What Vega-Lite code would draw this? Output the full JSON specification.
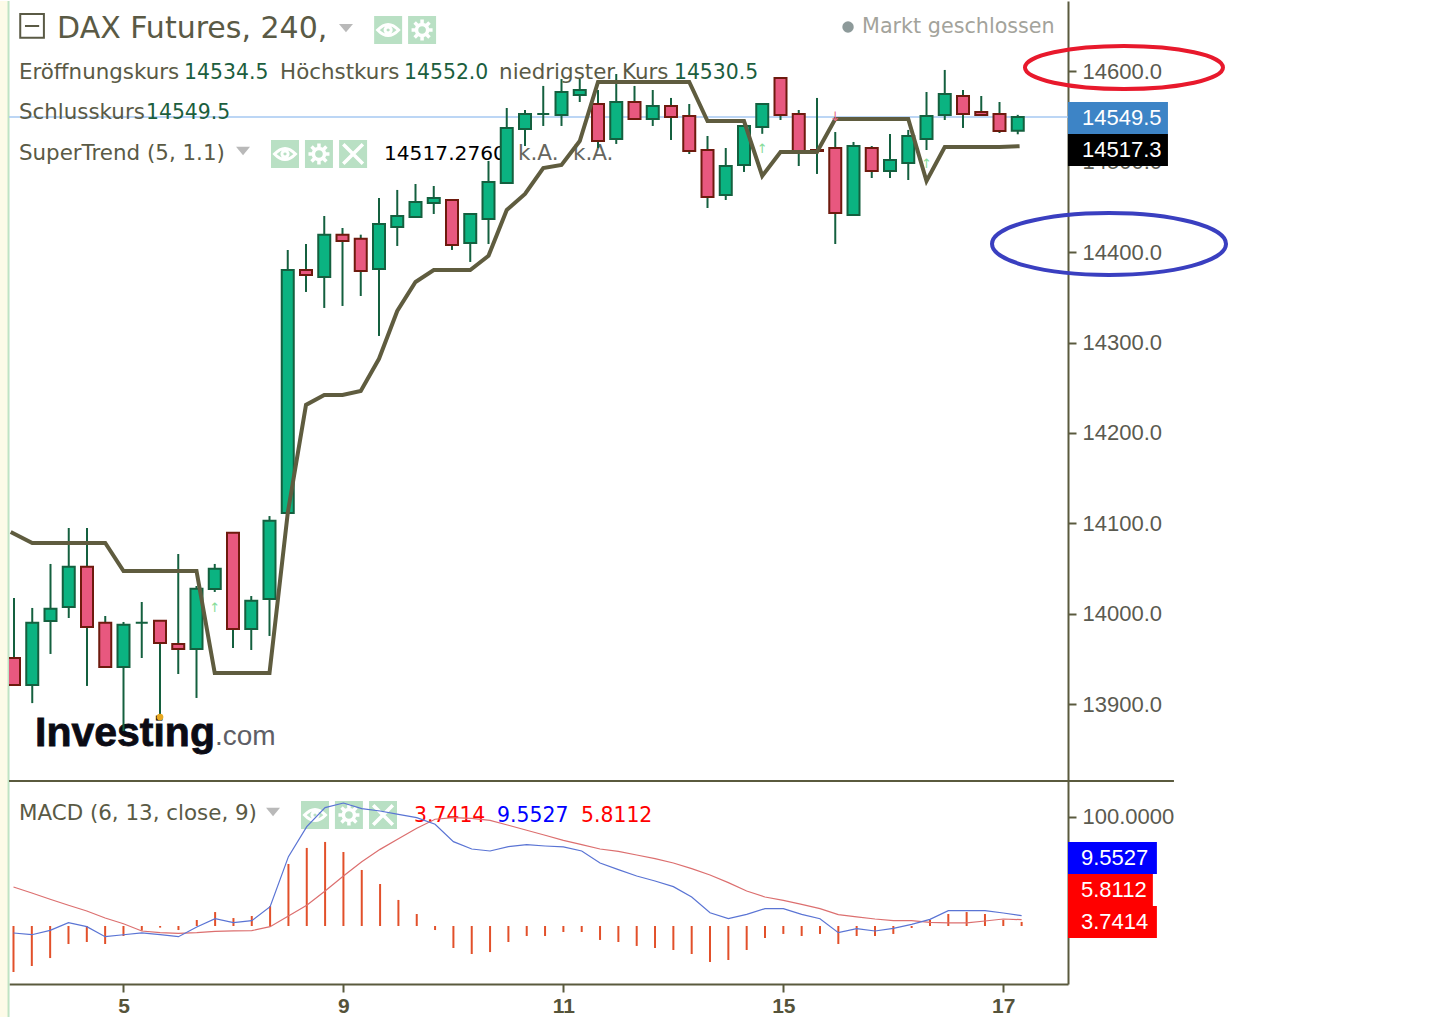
{"$schema":"https://vega.github.io/schema/vega-lite/v6.json","background":"white","padding":0,"spacing":0,"bounds":"flush","config":{"view":{"stroke":null},"axis":{"grid":false,"title":null}},
"datasets":{
"candles":[{"i":0,"o":13950.9,"c":13921,"h":14017.3,"l":13920},{"i":1,"o":13921,"c":13990,"h":14006.3,"l":13901},{"i":2,"o":13991.9,"c":14005.5,"h":14055,"l":13955.4},{"i":3,"o":14007.4,"c":14052,"h":14094.8,"l":13995.2},{"i":4,"o":14052,"c":13985.2,"h":14094.8,"l":13920},{"i":5,"o":13990,"c":13941,"h":13997.4,"l":13941},{"i":6,"o":13941,"c":13987.8,"h":13990.8,"l":13870},{"i":7,"o":13990,"c":13990,"h":14012.9,"l":13950.9},{"i":8,"o":13992.2,"c":13967.5,"h":13992.2,"l":13888.9},{"i":9,"o":13966.4,"c":13960.9,"h":14066,"l":13933.2},{"i":10,"o":13960.9,"c":14027.6,"h":14030.6,"l":13906.7},{"i":11,"o":14027.3,"c":14049.8,"h":14055,"l":14024},{"i":12,"o":14089.6,"c":13983,"h":14089.6,"l":13962},{"i":13,"o":13983,"c":14014.3,"h":14019.5,"l":13959.8},{"i":14,"o":14016.2,"c":14102.9,"h":14108,"l":13975.3},{"i":15,"o":14111.4,"c":14380.3,"h":14402.5,"l":14109},{"i":16,"o":14380.3,"c":14374.8,"h":14409.1,"l":14356},{"i":17,"o":14372.6,"c":14419.4,"h":14440.1,"l":14338.3},{"i":18,"o":14419.4,"c":14412.4,"h":14426.8,"l":14340.5},{"i":19,"o":14415,"c":14379.2,"h":14419.4,"l":14351.5},{"i":20,"o":14381.4,"c":14431.2,"h":14460,"l":14307.3},{"i":21,"o":14427.9,"c":14440.1,"h":14468.9,"l":14406.9},{"i":22,"o":14439,"c":14455.6,"h":14475.5,"l":14439},{"i":23,"o":14454.5,"c":14460,"h":14473.3,"l":14442.3},{"i":24,"o":14457.8,"c":14408,"h":14457.8,"l":14402.5},{"i":25,"o":14410.2,"c":14442.3,"h":14442.3,"l":14389.2},{"i":26,"o":14436.8,"c":14477.7,"h":14501,"l":14409.1},{"i":27,"o":14476.6,"c":14537.5,"h":14559.6,"l":14476.6},{"i":28,"o":14536.4,"c":14553,"h":14557.4,"l":14517.5},{"i":29,"o":14553,"c":14553,"h":14584,"l":14539.7},{"i":30,"o":14551.9,"c":14577.3,"h":14591.7,"l":14539.7},{"i":31,"o":14574,"c":14579.5,"h":14591.7,"l":14566.2},{"i":32,"o":14564,"c":14523.1,"h":14579.5,"l":14515.3},{"i":33,"o":14525.3,"c":14566.2,"h":14597.2,"l":14519.8},{"i":34,"o":14566.2,"c":14547.4,"h":14584,"l":14547.4},{"i":35,"o":14547.4,"c":14561.8,"h":14579.5,"l":14539.7},{"i":36,"o":14561.8,"c":14549.6,"h":14570.7,"l":14524.2},{"i":37,"o":14550.8,"c":14512,"h":14564,"l":14508.7},{"i":38,"o":14513.1,"c":14461.1,"h":14528.6,"l":14448.9},{"i":39,"o":14463.3,"c":14495.4,"h":14515.3,"l":14457.8},{"i":40,"o":14496.5,"c":14539.7,"h":14539.7,"l":14488.8},{"i":41,"o":14538.6,"c":14564,"h":14564,"l":14531},{"i":42,"o":14592.8,"c":14551.9,"h":14592.8,"l":14546.3},{"i":43,"o":14553,"c":14509.8,"h":14557.4,"l":14495.4},{"i":44,"o":14513.1,"c":14512,"h":14570.7,"l":14486.6},{"i":45,"o":14515.3,"c":14443.4,"h":14533,"l":14409.1},{"i":46,"o":14441.2,"c":14517.5,"h":14522,"l":14441.2},{"i":47,"o":14515.3,"c":14489.9,"h":14517.5,"l":14482.1},{"i":48,"o":14489.9,"c":14502.1,"h":14530.8,"l":14482.1},{"i":49,"o":14498.7,"c":14528.6,"h":14535.3,"l":14479.9},{"i":50,"o":14525.3,"c":14550.8,"h":14577.3,"l":14513.1},{"i":51,"o":14551.9,"c":14575.1,"h":14601.7,"l":14546.3},{"i":52,"o":14572.9,"c":14553,"h":14579.5,"l":14537.5},{"i":53,"o":14555.2,"c":14551.9,"h":14572.9,"l":14551.9},{"i":54,"o":14553,"c":14534.2,"h":14566.2,"l":14531.9},{"i":55,"o":14534.5,"c":14549.5,"h":14552,"l":14530.5}],
"supertrend":[{"i":-0.18,"v":14090.4},{"i":1,"v":14078.2},{"i":2,"v":14078.2},{"i":3,"v":14078.2},{"i":4,"v":14078.2},{"i":5,"v":14078.2},{"i":6,"v":14047.2},{"i":7,"v":14047.2},{"i":8,"v":14047.2},{"i":9,"v":14047.2},{"i":10,"v":14047.2},{"i":11,"v":13934.3},{"i":12,"v":13934.3},{"i":13,"v":13934.3},{"i":14,"v":13934.3},{"i":15,"v":14111.4},{"i":16,"v":14231},{"i":17,"v":14242},{"i":18,"v":14242},{"i":19,"v":14246.4},{"i":20,"v":14282},{"i":21,"v":14335},{"i":22,"v":14367},{"i":23,"v":14380.3},{"i":24,"v":14380.3},{"i":25,"v":14380.3},{"i":26,"v":14396},{"i":27,"v":14446.7},{"i":28,"v":14464.4},{"i":29,"v":14493.2},{"i":30,"v":14496.5},{"i":31,"v":14523.1},{"i":32,"v":14588.4},{"i":33,"v":14588.4},{"i":34,"v":14588.4},{"i":35,"v":14588.4},{"i":36,"v":14588.4},{"i":37,"v":14588.4},{"i":38,"v":14545.2},{"i":39,"v":14545.2},{"i":40,"v":14545.2},{"i":41,"v":14484.4},{"i":42,"v":14510.9},{"i":43,"v":14510.9},{"i":44,"v":14510.9},{"i":45,"v":14547.4},{"i":46,"v":14547.4},{"i":47,"v":14547.4},{"i":48,"v":14547.4},{"i":49,"v":14547.4},{"i":50,"v":14478.8},{"i":51,"v":14516.4},{"i":52,"v":14516.4},{"i":53,"v":14516.4},{"i":54,"v":14516.4},{"i":55.1,"v":14517.3}],
"macd":[{"i":0,"m":-6.4,"s":35.8,"h":-42.2},{"i":1,"m":-8,"s":30.3,"h":-36.7},{"i":2,"m":-4,"s":24.5,"h":-29.4},{"i":3,"m":3.1,"s":19,"h":-16.5},{"i":4,"m":-0.6,"s":13.8,"h":-14.7},{"i":5,"m":-9.8,"s":7.3,"h":-16.5},{"i":6,"m":-8,"s":2.1,"h":-9.2},{"i":7,"m":-6.4,"s":-4.6,"h":-4.3},{"i":8,"m":-8,"s":-6.1,"h":-1.5},{"i":9,"m":-9.8,"s":-6.7,"h":-3.7},{"i":10,"m":-0.9,"s":-6.1,"h":5.5},{"i":11,"m":6.7,"s":-4.9,"h":12.8},{"i":12,"m":3.1,"s":-4.4,"h":7.3},{"i":13,"m":4.9,"s":-4.3,"h":9.2},{"i":14,"m":17.7,"s":-0.6,"h":18.3},{"i":15,"m":63.6,"s":9.2,"h":56.9},{"i":16,"m":91.1,"s":19,"h":71.6},{"i":17,"m":108.6,"s":32.1,"h":77.1},{"i":18,"m":112.8,"s":45.9,"h":67.9},{"i":19,"m":107.6,"s":59,"h":51.4},{"i":20,"m":105.5,"s":70.3,"h":38.5},{"i":21,"m":102.4,"s":80.1,"h":23.9},{"i":22,"m":99.4,"s":89.6,"h":11},{"i":23,"m":93.3,"s":97.9,"h":-3.7},{"i":24,"m":77.4,"s":99.4,"h":-20.2},{"i":25,"m":70.6,"s":98.8,"h":-25.7},{"i":26,"m":68.8,"s":96.9,"h":-23.9},{"i":27,"m":72.8,"s":92.4,"h":-14.7},{"i":28,"m":74.6,"s":87.8,"h":-9.2},{"i":29,"m":73.4,"s":83.2,"h":-9.2},{"i":30,"m":72.5,"s":78.6,"h":-5.5},{"i":31,"m":68.8,"s":74.6,"h":-5.5},{"i":32,"m":57.8,"s":70.6,"h":-12.8},{"i":33,"m":51.7,"s":68.5,"h":-14.7},{"i":34,"m":45.9,"s":65.1,"h":-18.3},{"i":35,"m":41.3,"s":61.8,"h":-20.2},{"i":36,"m":36.1,"s":57.8,"h":-22},{"i":37,"m":26.6,"s":52.6,"h":-25.7},{"i":38,"m":12.2,"s":46.8,"h":-33},{"i":39,"m":6.7,"s":39.8,"h":-31.2},{"i":40,"m":10.7,"s":32.1,"h":-22},{"i":41,"m":15.9,"s":26.6,"h":-11},{"i":42,"m":15.9,"s":23.5,"h":-7.3},{"i":43,"m":10.7,"s":19.9,"h":-9.2},{"i":44,"m":6.7,"s":15.9,"h":-7.3},{"i":45,"m":-6.1,"s":10.4,"h":-16.5},{"i":46,"m":-2.4,"s":8.3,"h":-9.2},{"i":47,"m":-4.6,"s":6.4,"h":-9.2},{"i":48,"m":-2.1,"s":4.9,"h":-7.3},{"i":49,"m":1.5,"s":4.9,"h":-1.8},{"i":50,"m":6.1,"s":3.4,"h":5.5},{"i":51,"m":14.1,"s":2.8,"h":11},{"i":52,"m":14.1,"s":2.8,"h":12.8},{"i":53,"m":14.1,"s":4.6,"h":11},{"i":54,"m":11.9,"s":6.4,"h":5.5},{"i":55,"m":9.55,"s":5.81,"h":3.74}]
},
"vconcat":[
{"width":1059,"height":780,"layer":[
{"data":{"values":[{"x":-0.767,"x2":-0.31,"y":14678,"y2":13814.8}]},"mark":{"type":"rect","fill":"#fdfbe8"},"encoding":{"x":{"field":"x","type":"quantitative","scale":{"domain":[-0.274,57.753],"nice":false,"zero":false,"padding":0},"axis":null},"x2":{"field":"x2"},"y":{"field":"y","type":"quantitative","scale":{"domain":[13814.8,14678],"nice":false,"zero":false},"axis":{"orient":"right","values":[13900,14000,14100,14200,14300,14400,14500,14600],"format":".1f","tickSize":8,"tickWidth":2,"tickColor":"#5a5a3e","domainColor":"#5a5a3e","domainWidth":2,"labelColor":"#5a5a50","labelFont":"Liberation Sans","labelFontSize":22,"labelPadding":6,"labelAlign":"left"}},"y2":{"field":"y2"}}},
{"data":{"values":[{"x":-0.3,"y":14678,"y2":13814.8}]},"mark":{"type":"rule","color":"#bfe3c4","strokeWidth":2},"encoding":{"x":{"field":"x","type":"quantitative"},"y":{"field":"y","type":"quantitative"},"y2":{"field":"y2"}}},
{"data":{"values":[{"x":-0.274,"x2":57.753,"v":14549.5}]},"mark":{"type":"rule","color":"#a6c8f2","strokeWidth":1.5},"encoding":{"x":{"field":"x","type":"quantitative"},"x2":{"field":"x2"},"y":{"field":"v","type":"quantitative"}}},
{"data":{"values":[{"x":2.36,"y":14647,"t":"DAX Futures, 240,"}]},"mark":{"type":"text","font":"DejaVu Sans","fontSize":30,"align":"left","baseline":"middle","color":"#5a5a45"},"encoding":{"x":{"field":"x","type":"quantitative"},"y":{"field":"y","type":"quantitative"},"text":{"field":"t"}}},
{"data":{"values":[{"x":46.47,"y":14649.2,"t":"Markt geschlossen"}]},"mark":{"type":"text","font":"DejaVu Sans","fontSize":20.7,"align":"left","baseline":"middle","color":"#a3a39b"},"encoding":{"x":{"field":"x","type":"quantitative"},"y":{"field":"y","type":"quantitative"},"text":{"field":"t"}}},
{"data":{"values":[{"x":0.27,"y":14598.2,"t":"Eröffnungskurs"},{"x":14.58,"y":14598.2,"t":"Höchstkurs"},{"x":26.58,"y":14598.2,"t":"niedrigster Kurs"},{"x":0.27,"y":14554,"t":"Schlusskurs"},{"x":0.27,"y":14509,"t":"SuperTrend (5, 1.1)"}]},"mark":{"type":"text","font":"DejaVu Sans","fontSize":21.4,"align":"left","baseline":"middle","color":"#5a5a45"},"encoding":{"x":{"field":"x","type":"quantitative"},"y":{"field":"y","type":"quantitative"},"text":{"field":"t"}}},
{"data":{"values":[{"x":9.32,"y":14598.2,"t":"14534.5"},{"x":21.37,"y":14598.2,"t":"14552.0"},{"x":36.16,"y":14598.2,"t":"14530.5"},{"x":7.23,"y":14554,"t":"14549.5"}]},"mark":{"type":"text","font":"DejaVu Sans","fontSize":20.4,"align":"left","baseline":"middle","color":"#1b5e3e"},"encoding":{"x":{"field":"x","type":"quantitative"},"y":{"field":"y","type":"quantitative"},"text":{"field":"t"}}},
{"data":{"values":[{"x":20.27,"y":14509,"t":"14517.2760"}]},"mark":{"type":"text","font":"DejaVu Sans","fontSize":20.2,"align":"left","baseline":"middle","color":"#000000"},"encoding":{"x":{"field":"x","type":"quantitative"},"y":{"field":"y","type":"quantitative"},"text":{"field":"t"}}},
{"data":{"values":[{"x":27.62,"y":14509,"t":"k.A."},{"x":30.63,"y":14509,"t":"k.A."}]},"mark":{"type":"text","font":"DejaVu Sans","fontSize":21.5,"align":"left","baseline":"middle","color":"#66665e"},"encoding":{"x":{"field":"x","type":"quantitative"},"y":{"field":"y","type":"quantitative"},"text":{"field":"t"}}},
{"data":{"values":[{"x":0.99,"y":14650.4}]},"mark":{"type":"point","shape":"M-1,-1H1V1H-1ZM-.6,0H.6","stroke":"#5a5a45","strokeWidth":2,"filled":false,"opacity":1,"size":560},"encoding":{"x":{"field":"x","type":"quantitative"},"y":{"field":"y","type":"quantitative"}}},
{"data":{"values":[{"x":18.19,"y":14648},{"x":12.55,"y":14512}]},"mark":{"type":"point","shape":"M-1,-.6H1L0,.6Z","filled":true,"fill":"#b9b9b9","opacity":1,"size":196},"encoding":{"x":{"field":"x","type":"quantitative"},"y":{"field":"y","type":"quantitative"}}},
{"data":{"values":[{"x":45.7,"y":14649.2}]},"mark":{"type":"point","shape":"circle","filled":true,"fill":"#8d9a9a","opacity":1,"size":130},"encoding":{"x":{"field":"x","type":"quantitative"},"y":{"field":"y","type":"quantitative"}}},
{"data":{"values":[{"x":20.5,"y":14645.9,"g":"eye"},{"x":22.36,"y":14645.9,"g":"gear"},{"x":14.85,"y":14508.7,"g":"eye"},{"x":16.71,"y":14508.7,"g":"gear"},{"x":18.58,"y":14508.7,"g":"x"}]},"layer":[
{"mark":{"type":"point","shape":"square","filled":true,"fill":"#b9e0c4","opacity":1,"size":784},"encoding":{"x":{"field":"x","type":"quantitative"},"y":{"field":"y","type":"quantitative"}}},
{"transform":[{"filter":"datum.g=='eye'"}],"mark":{"type":"point","shape":"M-.75,0Q0,-.8 .75,0Q0,.8 -.75,0ZM-.22,0a.22,.22 0 1,0 .44,0a.22,.22 0 1,0 -.44,0Z","filled":false,"stroke":"white","strokeWidth":3,"opacity":1,"size":784},"encoding":{"x":{"field":"x","type":"quantitative"},"y":{"field":"y","type":"quantitative"}}},
{"transform":[{"filter":"datum.g=='gear'"}],"mark":{"type":"point","shape":"M-.4,0a.4,.4 0 1,0 .8,0a.4,.4 0 1,0 -.8,0ZM0,-.75V-.45M0,.75V.45M-.75,0H-.45M.75,0H.45M-.53,-.53L-.32,-.32M.53,.53L.32,.32M-.53,.53L-.32,.32M.53,-.53L.32,-.32","filled":false,"stroke":"white","strokeWidth":3.5,"opacity":1,"size":784},"encoding":{"x":{"field":"x","type":"quantitative"},"y":{"field":"y","type":"quantitative"}}},
{"transform":[{"filter":"datum.g=='x'"}],"mark":{"type":"point","shape":"M-.7,-.7L.7,.7M-.7,.7L.7,-.7","filled":false,"stroke":"white","strokeWidth":3.5,"opacity":1,"size":784},"encoding":{"x":{"field":"x","type":"quantitative"},"y":{"field":"y","type":"quantitative"}}}
]},
{"data":{"values":[{"x":1.15,"y":13866.8,"t":"Investing"}]},"mark":{"type":"text","font":"Liberation Sans","fontWeight":"bold","fontSize":41,"align":"left","baseline":"middle","color":"#0b0b14","stroke":"#0b0b14","strokeWidth":0.8},"encoding":{"x":{"field":"x","type":"quantitative"},"y":{"field":"y","type":"quantitative"},"text":{"field":"t"}}},
{"data":{"values":[{"x":11.01,"y":13864,"t":".com"}]},"mark":{"type":"text","font":"Liberation Sans","fontSize":28,"align":"left","baseline":"middle","color":"#5e5e66"},"encoding":{"x":{"field":"x","type":"quantitative"},"y":{"field":"y","type":"quantitative"},"text":{"field":"t"}}},
{"data":{"name":"candles"},"mark":{"type":"rule","color":"#14603f","strokeWidth":2,"clip":true},"encoding":{"x":{"field":"i","type":"quantitative"},"y":{"field":"l","type":"quantitative"},"y2":{"field":"h"}}},
{"data":{"name":"candles"},"mark":{"type":"bar","size":12,"strokeWidth":2,"clip":true},"encoding":{"x":{"field":"i","type":"quantitative"},"y":{"field":"o","type":"quantitative"},"y2":{"field":"c"},"fill":{"condition":{"test":"datum.c>=datum.o","value":"#0bb381"},"value":"#e8587f"},"stroke":{"condition":{"test":"datum.c>=datum.o","value":"#14603f"},"value":"#6e1a0e"}}},
{"data":{"name":"supertrend"},"mark":{"type":"line","color":"#5f5c3f","strokeWidth":4,"strokeJoin":"miter"},"encoding":{"x":{"field":"i","type":"quantitative"},"y":{"field":"v","type":"quantitative"},"order":{"field":"i"}}},
{"data":{"values":[{"x":11,"y":14006.3,"t":"↑","k":"up"},{"x":41,"y":14514.2,"t":"↑","k":"up"},{"x":50,"y":14497.6,"t":"↑","k":"up"},{"x":45,"y":14549.6,"t":"↓","k":"down"}]},"mark":{"type":"text","font":"DejaVu Sans","fontSize":13,"baseline":"middle"},"encoding":{"x":{"field":"x","type":"quantitative"},"y":{"field":"y","type":"quantitative"},"text":{"field":"t"},"color":{"condition":{"test":"datum.k=='up'","value":"#86dc98"},"value":"#e76d88"}}},
{"data":{"values":[{"x":8,"y":13885.6}]},"mark":{"type":"point","shape":"circle","filled":true,"fill":"#e8a820","opacity":1,"size":45},"encoding":{"x":{"field":"x","type":"quantitative"},"y":{"field":"y","type":"quantitative"}}},
{"data":{"values":[{"x":57.75,"x2":63.23,"y":14566.2,"y2":14530.8}]},"mark":{"type":"rect","fill":"#3d84c6"},"encoding":{"x":{"field":"x","type":"quantitative"},"x2":{"field":"x2"},"y":{"field":"y","type":"quantitative"},"y2":{"field":"y2"}}},
{"data":{"values":[{"x":57.75,"x2":63.23,"y":14530.8,"y2":14495.4}]},"mark":{"type":"rect","fill":"#000000"},"encoding":{"x":{"field":"x","type":"quantitative"},"x2":{"field":"x2"},"y":{"field":"y","type":"quantitative"},"y2":{"field":"y2"}}},
{"data":{"values":[{"x":58.52,"y":14548.5,"t":"14549.5"},{"x":58.52,"y":14513.1,"t":"14517.3"}]},"mark":{"type":"text","font":"Liberation Sans","fontSize":22,"align":"left","baseline":"middle","color":"white"},"encoding":{"x":{"field":"x","type":"quantitative"},"y":{"field":"y","type":"quantitative"},"text":{"field":"t"}}},
{"data":{"values":[{"x":60.82,"y":14604.4}]},"mark":{"type":"point","shape":"M-1,0A1,.217 0 1,1 1,0A1,.217 0 1,1 -1,0Z","filled":false,"stroke":"#e8192c","strokeWidth":4,"opacity":1,"size":39204},"encoding":{"x":{"field":"x","type":"quantitative"},"y":{"field":"y","type":"quantitative"}}},
{"data":{"values":[{"x":60,"y":14409.1}]},"mark":{"type":"point","shape":"M-1,0A1,.265 0 1,1 1,0A1,.265 0 1,1 -1,0Z","filled":false,"stroke":"#3a3fc0","strokeWidth":4,"opacity":1,"size":54756},"encoding":{"x":{"field":"x","type":"quantitative"},"y":{"field":"y","type":"quantitative"}}}
]},
{"width":1059,"height":203,"layer":[
{"data":{"values":[{"x":-0.736,"x2":-0.28,"y":133,"y2":-84.4}]},"mark":{"type":"rect","fill":"#fdfbe8"},"encoding":{"x":{"field":"x","type":"quantitative","scale":{"domain":[-0.245,57.53],"nice":false,"zero":false},"axis":{"values":[6,18,30,42,54],"labelExpr":"datum.value==6?'5':datum.value==18?'9':datum.value==30?'11':datum.value==42?'15':'17'","tickSize":8,"tickWidth":2,"tickColor":"#5a5a3e","domainColor":"#5a5a3e","domainWidth":2,"labelColor":"#55533a","labelFont":"Liberation Sans","labelFontSize":21,"labelFontWeight":"bold","labelPadding":3}},"x2":{"field":"x2"},"y":{"field":"y","type":"quantitative","scale":{"domain":[-53.2,133],"nice":false,"zero":false},"axis":{"orient":"right","values":[100],"format":".4f","tickSize":8,"tickWidth":2,"tickColor":"#5a5a3e","domainColor":"#5a5a3e","domainWidth":2,"labelColor":"#5a5a50","labelFont":"Liberation Sans","labelFontSize":22,"labelPadding":6,"labelAlign":"left"}},"y2":{"field":"y2"}}},
{"data":{"values":[{"x":-0.27,"y":133,"y2":-84.4}]},"mark":{"type":"rule","color":"#bfe3c4","strokeWidth":2},"encoding":{"x":{"field":"x","type":"quantitative"},"y":{"field":"y","type":"quantitative"},"y2":{"field":"y2"}}},
{"data":{"values":[{"x":-0.245,"x2":63.31,"y":133}]},"mark":{"type":"rule","color":"#5a5a3e","strokeWidth":2},"encoding":{"x":{"field":"x","type":"quantitative"},"x2":{"field":"x2"},"y":{"field":"y","type":"quantitative"}}},
{"data":{"values":[{"x":0.3,"y":102.75,"t":"MACD (6, 13, close, 9)"}]},"mark":{"type":"text","font":"DejaVu Sans","fontSize":21.4,"align":"left","baseline":"middle","color":"#5a5a45"},"encoding":{"x":{"field":"x","type":"quantitative"},"y":{"field":"y","type":"quantitative"},"text":{"field":"t"}}},
{"data":{"values":[{"x":21.85,"y":100.9,"t":"3.7414"},{"x":30.96,"y":100.9,"t":"5.8112"}]},"mark":{"type":"text","font":"DejaVu Sans","fontSize":20.4,"align":"left","baseline":"middle","color":"#ff0000"},"encoding":{"x":{"field":"x","type":"quantitative"},"y":{"field":"y","type":"quantitative"},"text":{"field":"t"}}},
{"data":{"values":[{"x":26.38,"y":100.9,"t":"9.5527"}]},"mark":{"type":"text","font":"DejaVu Sans","fontSize":20.4,"align":"left","baseline":"middle","color":"#0000ff"},"encoding":{"x":{"field":"x","type":"quantitative"},"y":{"field":"y","type":"quantitative"},"text":{"field":"t"}}},
{"data":{"values":[{"x":14.16,"y":104.6}]},"mark":{"type":"point","shape":"M-1,-.6H1L0,.6Z","filled":true,"fill":"#b9b9b9","opacity":1,"size":196},"encoding":{"x":{"field":"x","type":"quantitative"},"y":{"field":"y","type":"quantitative"}}},
{"data":{"values":[{"x":16.45,"y":101.8,"g":"eye"},{"x":18.3,"y":101.8,"g":"gear"},{"x":20.16,"y":101.8,"g":"x"}]},"layer":[
{"mark":{"type":"point","shape":"square","filled":true,"fill":"#b9e0c4","opacity":1,"size":784},"encoding":{"x":{"field":"x","type":"quantitative"},"y":{"field":"y","type":"quantitative"}}},
{"transform":[{"filter":"datum.g=='eye'"}],"mark":{"type":"point","shape":"M-.75,0Q0,-.8 .75,0Q0,.8 -.75,0ZM-.22,0a.22,.22 0 1,0 .44,0a.22,.22 0 1,0 -.44,0Z","filled":false,"stroke":"white","strokeWidth":3,"opacity":1,"size":784},"encoding":{"x":{"field":"x","type":"quantitative"},"y":{"field":"y","type":"quantitative"}}},
{"transform":[{"filter":"datum.g=='gear'"}],"mark":{"type":"point","shape":"M-.4,0a.4,.4 0 1,0 .8,0a.4,.4 0 1,0 -.8,0ZM0,-.75V-.45M0,.75V.45M-.75,0H-.45M.75,0H.45M-.53,-.53L-.32,-.32M.53,.53L.32,.32M-.53,.53L-.32,.32M.53,-.53L.32,-.32","filled":false,"stroke":"white","strokeWidth":3.5,"opacity":1,"size":784},"encoding":{"x":{"field":"x","type":"quantitative"},"y":{"field":"y","type":"quantitative"}}},
{"transform":[{"filter":"datum.g=='x'"}],"mark":{"type":"point","shape":"M-.7,-.7L.7,.7M-.7,.7L.7,-.7","filled":false,"stroke":"white","strokeWidth":3.5,"opacity":1,"size":784},"encoding":{"x":{"field":"x","type":"quantitative"},"y":{"field":"y","type":"quantitative"}}}
]},
{"data":{"name":"macd"},"mark":{"type":"rule","color":"#e2502a","strokeWidth":2},"encoding":{"x":{"field":"i","type":"quantitative"},"y":{"field":"h","type":"quantitative"},"y2":{"datum":0}}},
{"data":{"name":"macd"},"mark":{"type":"line","color":"#dc6f6f","strokeWidth":1.2},"encoding":{"x":{"field":"i","type":"quantitative"},"y":{"field":"s","type":"quantitative"},"order":{"field":"i"}}},
{"data":{"name":"macd"},"mark":{"type":"line","color":"#5a74d4","strokeWidth":1.2},"encoding":{"x":{"field":"i","type":"quantitative"},"y":{"field":"m","type":"quantitative"},"order":{"field":"i"}}},
{"data":{"values":[{"x":57.53,"x2":62.38,"y":77.06,"y2":47.7}]},"mark":{"type":"rect","fill":"#0000ff"},"encoding":{"x":{"field":"x","type":"quantitative"},"x2":{"field":"x2"},"y":{"field":"y","type":"quantitative"},"y2":{"field":"y2"}}},
{"data":{"values":[{"x":57.53,"x2":62.16,"y":47.7,"y2":18.35},{"x":57.53,"x2":62.38,"y":18.35,"y2":-11}]},"mark":{"type":"rect","fill":"#ff0000"},"encoding":{"x":{"field":"x","type":"quantitative"},"x2":{"field":"x2"},"y":{"field":"y","type":"quantitative"},"y2":{"field":"y2"}}},
{"data":{"values":[{"x":58.24,"y":62.4,"t":"9.5527"},{"x":58.24,"y":33,"t":"5.8112"},{"x":58.24,"y":3.67,"t":"3.7414"}]},"mark":{"type":"text","font":"Liberation Sans","fontSize":22,"align":"left","baseline":"middle","color":"white"},"encoding":{"x":{"field":"x","type":"quantitative"},"y":{"field":"y","type":"quantitative"},"text":{"field":"t"}}}
]}
]}
